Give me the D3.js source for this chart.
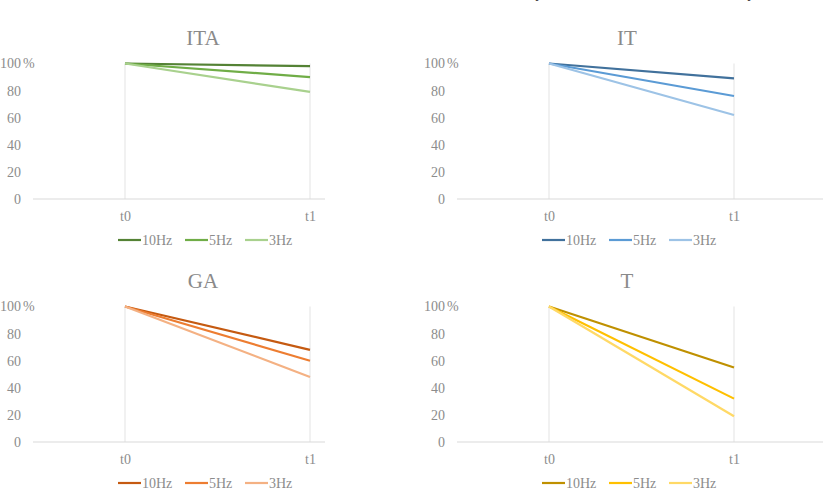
<!DOCTYPE html>
<html>
<head>
  <meta charset="utf-8">
  <title>Frequency panels</title>
  <style>
   html, body { margin: 0; padding: 0; background: #fff; }
   text { font-family: "Liberation Serif", "Times New Roman", serif; fill: #8c8c8c; }
   .title { font-size: 21px; fill: #8a8a8a; }
   .tick-label { font-size: 14px; }
   .legend-label { font-size: 14px; }
   .grid { stroke: #e3e3e3; stroke-width: 1px; }
   .baseline { stroke: #d9d9d9; stroke-width: 1px; }
  </style>
</head>
<body>
<div id="chart"></div>
<script src="https://d3js.org/d3.v7.min.js"></script>
<script>
// categories and series
var times = ["t0", "t1"];
var freqs = ["10Hz", "5Hz", "3Hz"];
var yTicks = [0, 20, 40, 60, 80, 100];

// values per panel, in the order of freqs
var itaValues = [[100, 98], [100, 90], [100, 79]];
var itValues  = [[100, 89], [100, 76], [100, 62]];
var gaValues  = [[100, 68], [100, 60], [100, 48]];
var tValues   = [[100, 55], [100, 32], [100, 19]];

var panelTitles = ["ITA", "IT", "GA", "T"];
var panelValues = [itaValues, itValues, gaValues, tValues];
var panelColors = [
  ["#548235", "#70ad47", "#a9d18e"],
  ["#41719c", "#5b9bd5", "#9dc3e6"],
  ["#c55a11", "#ed7d31", "#f4b183"],
  ["#bf9000", "#ffc000", "#ffd966"]
];

var width = 825, height = 492;

var svg = d3.select("#chart")
  .append("svg")
  .attr("width", width)
  .attr("height", height);

// cut-off text fragments at the very top edge
svg.append("text")
  .attr("x", 537).attr("y", -2)
  .style("font-style", "italic").style("font-size", "15px").style("fill", "#333")
  .text("y");
svg.append("text")
  .attr("x", 749).attr("y", -2)
  .style("font-style", "italic").style("font-size", "15px").style("fill", "#333")
  .text("y");

function drawPanel(i) {
  var dx = (i % 2) * 424;
  var dy = Math.floor(i / 2) * 243;
  var axisRight = (i % 2) ? 399 : 325;

  var g = svg.append("g").attr("transform", "translate(" + dx + "," + dy + ")");

  var x = d3.scalePoint().domain(times).range([125, 310]);
  var y = d3.scaleLinear().domain([0, 100]).range([199, 63.5]);

  // title
  g.append("text")
    .attr("class", "title")
    .attr("x", 203).attr("y", 45)
    .attr("text-anchor", "middle")
    .text(panelTitles[i]);

  // vertical gridlines at categories
  g.selectAll(".grid")
    .data(times)
    .enter()
    .append("line")
    .attr("class", "grid")
    .attr("x1", function(d) { return x(d); })
    .attr("x2", function(d) { return x(d); })
    .attr("y1", y(100))
    .attr("y2", y(0));

  // category axis line
  g.append("line")
    .attr("class", "baseline")
    .attr("x1", 33).attr("x2", axisRight)
    .attr("y1", y(0)).attr("y2", y(0));

  // y axis labels
  var yAxis = d3.axisLeft(y).tickValues(yTicks).tickSize(0).tickPadding(0);
  var ya = g.append("g").attr("transform", "translate(21,0)").call(yAxis);
  ya.select(".domain").remove();
  ya.selectAll("text")
    .attr("class", "tick-label")
    .attr("font-family", null).attr("font-size", null)
    .attr("fill", null);

  g.append("text")
    .attr("class", "tick-label")
    .attr("x", 23).attr("y", y(100))
    .attr("dy", "0.32em")
    .text("%");

  // x axis labels
  var xAxis = d3.axisBottom(x).tickSize(0).tickPadding(12);
  var xa = g.append("g").attr("transform", "translate(0," + y(0) + ")").call(xAxis);
  xa.select(".domain").remove();
  xa.selectAll("text")
    .attr("class", "tick-label")
    .attr("font-family", null).attr("font-size", null)
    .attr("fill", null);

  // lines
  var line = d3.line()
    .x(function(d, j) { return x(times[j]); })
    .y(function(d) { return y(d); });

  g.selectAll(".series")
    .data(panelValues[i])
    .enter()
    .append("path")
    .attr("class", "series")
    .attr("d", line)
    .attr("fill", "none")
    .attr("stroke", function(d, k) { return panelColors[i][k]; })
    .attr("stroke-width", 2.2);

  // legend
  var legendX = [118, 185, 245];
  var lg = g.selectAll(".legend")
    .data(freqs)
    .enter()
    .append("g")
    .attr("class", "legend")
    .attr("transform", function(d, k) { return "translate(" + legendX[k] + ",240)"; });

  lg.append("line")
    .attr("x1", 0).attr("x2", 23)
    .attr("y1", 0).attr("y2", 0)
    .attr("stroke", function(d, k) { return panelColors[i][k]; })
    .attr("stroke-width", 2.2);

  lg.append("text")
    .attr("class", "legend-label")
    .attr("x", 24).attr("y", 0)
    .attr("dy", "0.35em")
    .text(function(d) { return d; });
}

for (var p = 0; p < 4; p++) drawPanel(p);
</script>
</body>
</html>
